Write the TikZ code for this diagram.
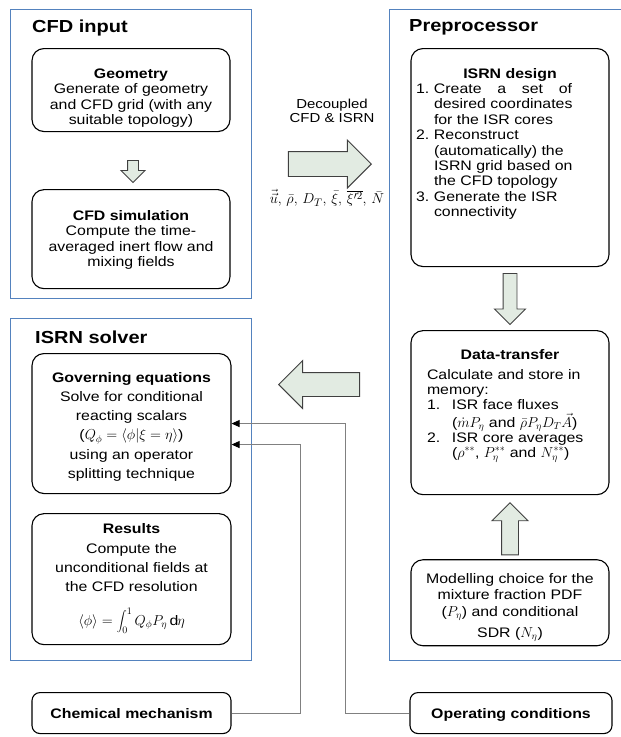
\documentclass[tikz,border=0pt]{standalone}
\usepackage{fontspec}
\setmainfont{Liberation Sans}[FakeStretch=1.15]
\usetikzlibrary{shapes.arrows,arrows.meta,positioning,calc}

\definecolor{panelblue}{RGB}{84,130,190}
\definecolor{arrowfill}{RGB}{226,235,226}
\definecolor{feedgray}{RGB}{128,128,128}

\begin{document}
\begin{tikzpicture}[
    x=1pt, y=-1pt,
    panel/.style={rectangle, draw=panelblue, line width=0.9pt, anchor=north west, inner sep=0pt},
    paneltitle/.style={anchor=west, inner sep=0pt, font=\fontsize{17.4pt}{20pt}\selectfont\bfseries},
    box/.style={rectangle, draw, line width=1.1pt, rounded corners=12pt, anchor=north, inner sep=0pt, minimum width=198pt, align=center, font=\fontsize{13.8pt}{15.4pt}\selectfont},
    smallbox/.style={box, rounded corners=8pt, font=\fontsize{13.8pt}{15.4pt}\selectfont\bfseries},
    fatarrow/.style={single arrow, draw=black!75, line width=0.9pt, fill=arrowfill, anchor=tip, single arrow tip angle=90},
    feed/.style={draw=feedgray, line width=0.9pt, -{Triangle[length=8pt, width=7pt, color=black]}},
    note/.style={align=center, inner sep=0pt, font=\fontsize{13pt}{14pt}\selectfont}
]
    \useasboundingbox (0,0) rectangle (621,737);

    % Panels
    \node[panel, minimum width=241pt, minimum height=289pt] (cfdpanel) at (10,9) {};
    \node[panel, minimum width=240pt, minimum height=651pt] (prepanel) at (389,9) {};
    \node[panel, minimum width=241pt, minimum height=342pt] (solpanel) at (10,318) {};

    \node[paneltitle] (cfdtitle) at (32,27.5) {CFD input};
    \node[paneltitle] (pretitle) at (409,27) {Preprocessor};
    \node[paneltitle] (soltitle) at (35,337) {ISRN solver};

    % CFD input
    \node[box, text height=76pt, text depth=7pt] (geom) at (131,48)
        {\textbf{Geometry}\\ Generate of geometry\\ and CFD grid (with any\\ suitable topology)};
    \node[box, below=57pt of geom, text height=77pt, text depth=22pt] (cfdsim)
        {\textbf{CFD simulation}\\ Compute the time-\\ averaged inert flow and\\ mixing fields};

    % Preprocessor
    \node[box, align=left, text height=45pt, text depth=173pt] (design) at (510,48) {%
        \makebox[198pt]{\textbf{ISRN design}}\\
        \hspace*{5pt}\begin{tabular}[t]{@{}p{18pt}@{}l@{}}
            1. & \makebox[138pt][s]{Create a set of}\\
               & desired coordinates\\
               & for the ISR cores\\
            2. & Reconstruct\\
               & (automatically) the\\
               & ISRN grid based on\\
               & the CFD topology\\
            3. & Generate the ISR\\
               & connectivity
        \end{tabular}};
    \node[box, align=left, below=63pt of design, text height=49pt, text depth=115pt, font=\fontsize{13.8pt}{14.8pt}\selectfont] (transfer) {%
        \makebox[198pt]{\textbf{Data-transfer}}\\[5pt]
        \hspace*{16pt}\begin{tabular}[t]{@{}p{25pt}@{}l@{}}
            \multicolumn{2}{@{}l@{}}{Calculate and store in}\\
            \multicolumn{2}{@{}l@{}}{memory:}\\
            1. & ISR face fluxes\\
               & ($\dot{m}P_\eta$ and $\bar{\rho}P_\eta D_T\vec{A}$)\\
            2. & ISR core averages\\
               & ($\rho^{**}$, $P_\eta^{**}$ and $N_\eta^{**}$)
        \end{tabular}};
    \node[box, below=64pt of transfer, text height=78pt, text depth=8pt, font=\fontsize{13.8pt}{16.5pt}\selectfont] (model)
        {Modelling choice for the\\ mixture fraction PDF\\ ($P_\eta$) and conditional\\[5pt] SDR ($N_\eta$)};

    % ISRN solver
    \node[box, minimum width=199pt, text height=125pt, text depth=15pt, font=\fontsize{13.8pt}{19.3pt}\selectfont] (gov) at (131.5,353)
        {\textbf{Governing equations}\\ Solve for conditional\\ reacting scalars\\ ($Q_\phi = \langle\phi|\xi=\eta\rangle$)\\ using an operator\\ splitting technique};
    \node[box, minimum width=199pt, below=19pt of gov, text height=112pt, text depth=19pt, font=\fontsize{13.8pt}{19.2pt}\selectfont] (results)
        {\textbf{Results}\\ Compute the\\ unconditional fields at\\ the CFD resolution\\[15pt] $\langle\phi\rangle = \displaystyle\int_0^1 Q_\phi P_\eta\,\mathrm{d}\eta$};

    % Inputs
    \node[smallbox, minimum width=199pt, text height=25.5pt, text depth=15.5pt] (chem) at (131.5,692) {Chemical mechanism};
    \node[smallbox, minimum width=202pt, text height=25.5pt, text depth=15.5pt] (opcond) at (511,692) {Operating conditions};

    % Block arrows
    \node[fatarrow, shape border rotate=270, inner sep=5pt, minimum height=22pt, minimum width=23pt, single arrow head extend=6.5pt] (geomarrow) at ([xshift=2pt, yshift=6pt]cfdsim.north) {};
    \node[fatarrow, shape border rotate=270, inner sep=6.5pt, minimum height=51pt, minimum width=30pt, single arrow head extend=8.5pt] (designarrow) at ([yshift=5pt]transfer.north) {};
    \node[fatarrow, shape border rotate=90, inner sep=8pt, minimum height=52pt, minimum width=35pt, single arrow head extend=9.5pt] (modelarrow) at ([yshift=-7pt]transfer.south) {};
    \node[fatarrow, inner sep=12pt, minimum height=83pt, minimum width=47pt, single arrow head extend=11.5pt] (cfdarrow) at (372,164) {};
    \node[fatarrow, shape border rotate=180, inner sep=11.5pt, minimum height=81pt, minimum width=47pt, single arrow head extend=12pt] (solarrow) at (278,384.5) {};

    \node[note] (decoupled) at (332,110.5) {Decoupled\\ CFD \& ISRN};
    \node[note, font=\fontsize{15pt}{16pt}\selectfont] (fields) at (327,198)
        {$\vec{\vec{u}},\, \bar{\rho},\, D_T,\, \bar{\xi},\, \overline{\xi'^2},\, \bar{N}$};

    % Feeds into the solver
    \draw[feed] (opcond.west) -| ([xshift=114pt]gov.east) -- (gov.east);
    \draw[feed] (chem.east) -| ([shift={(69pt,-21pt)}]gov.east) -- ([yshift=-21pt]gov.east);

\end{tikzpicture}
\end{document}
